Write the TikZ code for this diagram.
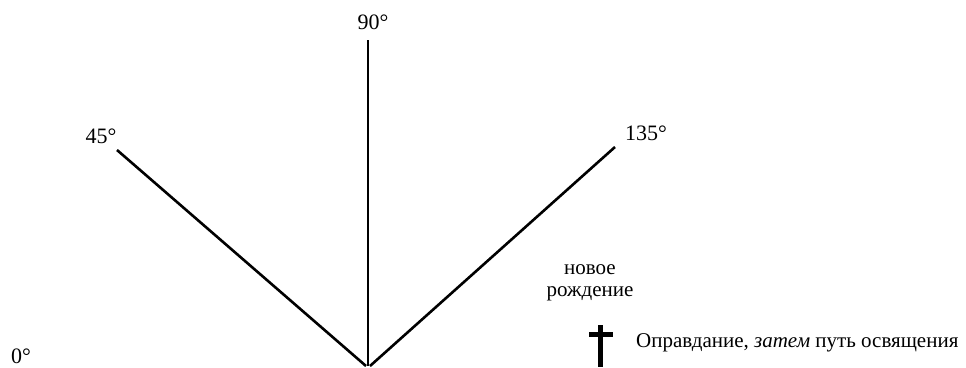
\documentclass[tikz,border=0pt]{standalone}
\usepackage{fontspec}
\setmainfont{Liberation Serif}
\begin{document}
\begin{tikzpicture}[x=1pt,y=1pt,
  ray/.style={line width=2.6pt},
  deg/.style={font=\fontsize{22}{24}\selectfont, inner sep=0pt},
  txt/.style={font=\fontsize{21}{24}\selectfont, inner sep=0pt, align=center}]
\useasboundingbox (0,0) rectangle (966,367);
\coordinate (v) at (368,1);
\coordinate (vl) at (366,1);
\coordinate (vr) at (370,1);
\coordinate (e90) at (368,327);
\coordinate (e45) at (117,217);
\coordinate (e135) at (615,220);
\draw[ray] (v) -- (e90);
\draw[ray] (vl) -- (e45);
\draw[ray] (vr) -- (e135);
\node[deg] (l90) at (373,345) {90°};
\node[deg] (l45) at (101,231) {45°};
\node[deg] (l135) at (646,234) {135°};
\node[deg] (l0) at (21,11) {0°};
\node[txt] (nb) at (590,84) {новое\\[-2pt]рождение};
\fill (598,0) rectangle (603,42);
\fill (589,30) rectangle (613,35);
\node[txt, anchor=west] (just) at (636,24) {Оправдание, \textit{затем} путь освящения};
\end{tikzpicture}
\end{document}
